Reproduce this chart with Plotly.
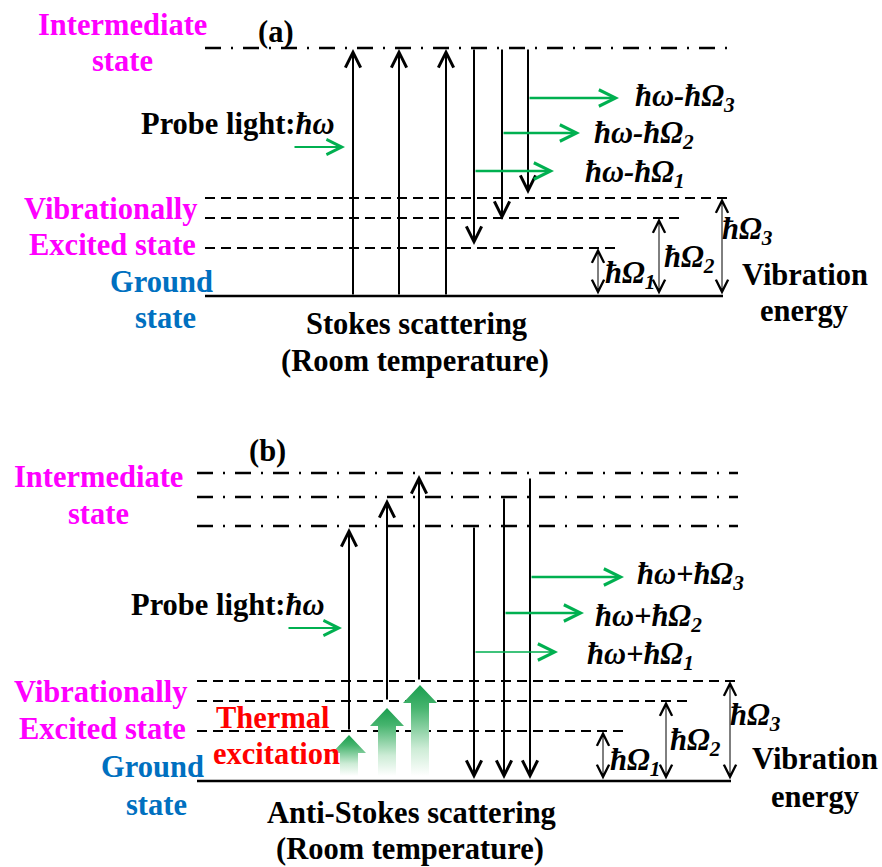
import plotly.graph_objects as go

W, H = 882, 867
SERIF = "Liberation Serif"
BLACK = "#000000"
MAGENTA = "#FF00FF"
BLUE = "#0070C0"
GREEN = "#00B050"
RED = "#FF0000"
DASHDOT = "16px,10px,2px,10px"
DASH = "10px,6px"
FS = 30.5    # label font size
MFS = 30.5   # math label font size

# ---------------- Panel (a): Stokes scattering ----------------
A_LEFT = 205
A_INTER_Y = [48]
A_INTER_END = [729]
A_VIB_Y = [248, 218, 198]          # levels for Omega1, Omega2, Omega3
A_VIB_END = [621, 681, 728]
A_GROUND_Y = 296
A_GROUND_END = 723
A_UP_X = [353, 399, 446]
A_DOWN_X = [474, 502, 528]
A_DOWN_TIP = [245, 220, 194]
A_OUT_Y = [171, 133, 98]
A_OUT_END = [554, 580, 619]
A_OUT_LABEL_X = [583, 592, 633]
A_OUT_LABEL_Y = [174, 135, 98]
A_OUT_LABELS = ["ħω-ħΩ<sub>1</sub>", "ħω-ħΩ<sub>2</sub>", "ħω-ħΩ<sub>3</sub>"]
A_OMEGA_X = [598, 659, 722]
A_OMEGA_LABEL_X = [603, 662, 720]
A_OMEGA_LABEL_Y = [275, 259, 231]
A_PROBE_X = [293, 345]
A_PROBE_Y = 147

# ---------------- Panel (b): Anti-Stokes scattering ----------------
B_LEFT = 197
B_INTER_Y = [526, 497, 473]
B_INTER_END = [738, 738, 738]
B_VIB_Y = [731, 701, 681]
B_VIB_END = [624, 688, 738]
B_GROUND_Y = 781
B_GROUND_END = 731
B_UP_X = [349, 387, 419]
B_DOWN_X = [474, 504, 530]
B_DOWN_START = [526, 497, 477]
B_OUT_Y = [652, 613, 577]
B_OUT_END = [558, 584, 624]
B_OUT_W = [1.5, 2.5, 2.5]
B_OUT_LABEL_X = [585, 593, 635]
B_OUT_LABEL_Y = [656, 618, 576]
B_OUT_LABELS = ["ħω+ħΩ<sub>1</sub>", "ħω+ħΩ<sub>2</sub>", "ħω+ħΩ<sub>3</sub>"]
B_OMEGA_X = [603, 666, 730]
B_OMEGA_LABEL_X = [608, 668, 728]
B_OMEGA_LABEL_Y = [762, 742, 717]
B_PROBE_X = [287, 342]
B_PROBE_Y = 628
THERM_X = [349, 387, 420]
THERM_TIP = [735, 708, 685]
THERM_BOTTOM = 776
OMEGA_LABELS = ["ħΩ<sub>1</sub>", "ħΩ<sub>2</sub>", "ħΩ<sub>3</sub>"]

# (text, x, y, xanchor, color)
TEXTS = [
    ("(a)", 276, 32, "center", BLACK),
    ("Intermediate", 122, 25, "center", MAGENTA),
    ("state", 122, 61, "center", MAGENTA),
    ("Vibrationally", 199, 209, "right", MAGENTA),
    ("Excited state", 198, 245, "right", MAGENTA),
    ("Ground", 161, 282, "center", BLUE),
    ("state", 165, 318, "center", BLUE),
    ("Stokes scattering", 416, 324, "center", BLACK),
    ("(Room temperature)", 415, 361, "center", BLACK),
    ("Vibration", 805, 275, "center", BLACK),
    ("energy", 804, 311, "center", BLACK),
    ("(b)", 267, 451, "center", BLACK),
    ("Intermediate", 98, 477, "center", MAGENTA),
    ("state", 98, 514, "center", MAGENTA),
    ("Vibrationally", 189, 692, "right", MAGENTA),
    ("Excited state", 188, 729, "right", MAGENTA),
    ("Ground", 152, 767, "center", BLUE),
    ("state", 156, 805, "center", BLUE),
    ("Thermal", 273, 718, "center", RED),
    ("excitation", 276, 754, "center", RED),
    ("Anti-Stokes scattering", 411, 813, "center", BLACK),
    ("(Room temperature)", 410, 849, "center", BLACK),
    ("Vibration", 815, 759, "center", BLACK),
    ("energy", 815, 797, "center", BLACK),
]
PROBE_TEXT = [(139, 124), (129, 605)]

fig = go.Figure()
shapes = []
annotations = []


def hline(x0, x1, y, dash, width):
    shapes.append(dict(type="line", xref="x", yref="y", x0=x0, x1=x1, y0=y, y1=y,
                       line=dict(color=BLACK, width=width, dash=dash), layer="below"))


def arrow(xt, yt, xs, ys, color=BLACK, width=2, size=1.5, both=False):
    a = dict(x=xt, y=yt, ax=xs, ay=ys, xref="x", yref="y", axref="x", ayref="y",
             text="", showarrow=True, arrowhead=5, arrowsize=size, arrowwidth=width,
             arrowcolor=color, standoff=0, startstandoff=0, font=dict(size=1))
    if both:
        a.update(arrowside="end+start", startarrowhead=5, startarrowsize=size)
    annotations.append(a)


def text(t, x, y, xa, color, size=FS, bold=True):
    s = f"<b>{t}</b>" if bold else t
    annotations.append(dict(x=x, y=y, xref="x", yref="y", text=s, showarrow=False,
                            xanchor=xa, yanchor="middle",
                            font=dict(family=SERIF, size=size, color=color)))


# ---- Panel (a) ----
for y, xe in zip(A_INTER_Y, A_INTER_END):
    hline(A_LEFT, xe, y, DASHDOT, 2.5)
for y, xe in zip(A_VIB_Y, A_VIB_END):
    hline(A_LEFT, xe, y, DASH, 2)
hline(A_LEFT, A_GROUND_END, A_GROUND_Y, "solid", 2.5)
for x in A_UP_X:
    arrow(x, A_INTER_Y[0] + 1, x, A_GROUND_Y)
for x, tip in zip(A_DOWN_X, A_DOWN_TIP):
    arrow(x, tip, x, A_INTER_Y[0])
for x0, y, xe in zip(A_DOWN_X, A_OUT_Y, A_OUT_END):
    arrow(xe, y, x0, y, color=GREEN, width=2.5, size=1.3)
for x, y, lab in zip(A_OUT_LABEL_X, A_OUT_LABEL_Y, A_OUT_LABELS):
    text(f"<i>{lab}</i>", x, y, "left", BLACK, size=MFS)
for x, y in zip(A_OMEGA_X, A_VIB_Y):
    arrow(x, y, x, A_GROUND_Y, width=1, size=2.4, both=True)
for x, y, lab in zip(A_OMEGA_LABEL_X, A_OMEGA_LABEL_Y, OMEGA_LABELS):
    text(f"<i>{lab}</i>", x, y, "left", BLACK, size=MFS)
arrow(A_PROBE_X[1], A_PROBE_Y, A_PROBE_X[0], A_PROBE_Y, color=GREEN, width=2, size=1.5)

# ---- Panel (b) ----
for y, xe in zip(B_INTER_Y, B_INTER_END):
    hline(B_LEFT, xe, y, DASHDOT, 2.5)
for y, xe in zip(B_VIB_Y, B_VIB_END):
    hline(B_LEFT, xe, y, DASH, 2)
hline(B_LEFT, B_GROUND_END, B_GROUND_Y, "solid", 2.5)
for x, y0, y1 in zip(B_UP_X, B_VIB_Y, B_INTER_Y):
    arrow(x, y1 + 2, x, y0)
for x, y0 in zip(B_DOWN_X, B_DOWN_START):
    arrow(x, B_GROUND_Y - 2, x, y0)
for x0, y, xe, w in zip(B_DOWN_X, B_OUT_Y, B_OUT_END, B_OUT_W):
    arrow(xe, y, x0, y, color=GREEN, width=w, size=1.3 * 2.5 / w)
for x, y, lab in zip(B_OUT_LABEL_X, B_OUT_LABEL_Y, B_OUT_LABELS):
    text(f"<i>{lab}</i>", x, y, "left", BLACK, size=MFS)
for x, y in zip(B_OMEGA_X, B_VIB_Y):
    arrow(x, y, x, B_GROUND_Y, width=1, size=2.4, both=True)
for x, y, lab in zip(B_OMEGA_LABEL_X, B_OMEGA_LABEL_Y, OMEGA_LABELS):
    text(f"<i>{lab}</i>", x, y, "left", BLACK, size=MFS)
arrow(B_PROBE_X[1], B_PROBE_Y, B_PROBE_X[0], B_PROBE_Y, color=GREEN, width=2, size=1.5)

# thermal excitation arrows (gradient filled)
HEAD_HW, HEAD_H, SHAFT_HW = 17, 18, 9
for cx, tip in zip(THERM_X, THERM_TIP):
    xs = [cx, cx + HEAD_HW, cx + SHAFT_HW, cx + SHAFT_HW, cx - SHAFT_HW, cx - SHAFT_HW, cx - HEAD_HW, cx]
    ys = [tip, tip + HEAD_H, tip + HEAD_H, THERM_BOTTOM, THERM_BOTTOM, tip + HEAD_H, tip + HEAD_H, tip]
    fig.add_trace(go.Scatter(
        x=xs, y=ys, mode="lines", fill="toself", line=dict(width=0, color="rgba(0,0,0,0)"),
        fillgradient=dict(type="vertical", start=tip, stop=THERM_BOTTOM,
                          colorscale=[[0, "rgb(25,158,78)"], [0.25, "rgb(70,180,110)"],
                                      [0.7, "rgb(205,236,214)"], [1, "rgb(255,255,255)"]]),
        hoverinfo="skip", showlegend=False))

for t, x, y, xa, c in TEXTS:
    text(t, x, y, xa, c)
for x, y in PROBE_TEXT:
    text("Probe light:<i>ħω</i>", x, y, "left", BLACK)

fig.update_layout(
    width=W, height=H, margin=dict(l=0, r=0, t=0, b=0),
    paper_bgcolor="white", plot_bgcolor="white",
    xaxis=dict(range=[0, W], visible=False, fixedrange=True),
    yaxis=dict(range=[H, 0], visible=False, fixedrange=True),
    shapes=shapes, annotations=annotations, showlegend=False,
)
fig.write_html("out.html")
